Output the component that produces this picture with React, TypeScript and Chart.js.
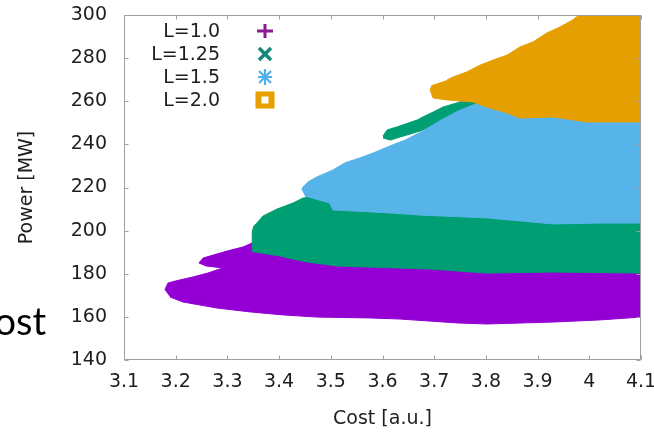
import React, { useEffect, useRef } from 'react';
import { Chart, registerables } from 'chart.js';

Chart.register(...registerables);

// ---- tick labels ----
const X_TICKS = ['3.1', '3.2', '3.3', '3.4', '3.5', '3.6', '3.7', '3.8', '3.9', '4', '4.1'];
const Y_TICKS = ['140', '160', '180', '200', '220', '240', '260', '280', '300'];

// ---- series ----
const SERIES_LABELS = ['L=1.0', 'L=1.25', 'L=1.5', 'L=2.0'];
const SERIES_COLORS = ['#9400D3', '#009E73', '#56B4E9', '#E69F00'];
const MARK_COLORS = ['#8b1a8f', '#12877a', '#4fb0ee', '#E69F00'];

// outline of the region covered by each series (cost, power)
const L10_COST = [3.179, 3.185, 3.199, 3.233, 3.262, 3.291, 3.259, 3.245, 3.253, 3.299, 3.330, 3.348, 3.353, 3.440, 4.100, 4.100, 4.021, 3.930, 3.802, 3.744, 3.634, 3.576, 3.473, 3.408, 3.344, 3.280, 3.214, 3.189];
const L10_POWER = [172.5, 175.7, 176.6, 178.5, 180.3, 182.7, 183.6, 185.0, 187.3, 190.5, 192.4, 194.3, 194.3, 191.0, 191.0, 159.9, 158.6, 157.6, 156.7, 157.2, 159.0, 159.5, 159.9, 160.9, 162.3, 164.1, 166.9, 169.2];

const L125_COST = [3.348, 3.348, 3.348, 3.351, 3.357, 3.369, 3.396, 3.427, 3.446, 3.473, 3.495, 3.518, 4.100, 4.100, 3.930, 3.802, 3.692, 3.576, 3.512, 3.454, 3.408];
const L125_POWER = [190.1, 194.3, 199.4, 202.1, 203.5, 206.8, 210.0, 212.8, 215.1, 216.1, 216.5, 221.2, 221.2, 180.3, 180.8, 180.3, 182.2, 183.1, 183.6, 185.5, 187.8];

const L125B_COST = [3.601, 3.609, 3.628, 3.644, 3.667, 3.678, 3.698, 3.717, 3.731, 3.750, 3.769, 3.789, 3.789, 3.750, 3.711, 3.673, 3.634, 3.615, 3.601];
const L125B_POWER = [243.9, 246.7, 248.1, 249.4, 251.3, 252.7, 255.0, 257.3, 258.3, 259.7, 260.6, 260.1, 256.9, 253.6, 249.9, 246.2, 243.4, 242.0, 243.0];

const L15_COST = [3.444, 3.446, 3.456, 3.473, 3.504, 3.527, 3.556, 3.582, 3.605, 3.624, 3.644, 3.678, 3.717, 3.750, 3.785, 3.808, 4.100, 4.100, 4.021, 3.930, 3.802, 3.673, 3.615, 3.504, 3.498, 3.450];
const L15_POWER = [218.8, 220.2, 222.6, 224.9, 228.1, 231.4, 233.7, 236.0, 238.3, 240.2, 242.0, 246.2, 251.8, 255.9, 259.2, 260.6, 260.6, 203.5, 203.5, 203.1, 205.9, 207.2, 208.2, 209.6, 212.8, 216.1];

const L20_COST = [3.696, 3.692, 3.698, 3.725, 3.775, 3.802, 3.841, 3.866, 3.930, 3.996, 4.100, 4.100, 3.992, 3.968, 3.943, 3.918, 3.891, 3.866, 3.841, 3.814, 3.789, 3.763, 3.736, 3.725];
const L20_POWER = [267.5, 265.2, 261.5, 260.6, 259.7, 257.3, 254.6, 252.2, 252.7, 250.4, 250.4, 305.0, 302.3, 297.7, 294.4, 291.7, 287.5, 285.2, 281.4, 279.1, 276.8, 273.6, 271.2, 269.9];

const X_TITLE = 'Cost [a.u.]';
const Y_TITLE = 'Power [MW]';
const SIDE_TEXT = 'ost';

const FONT = 'DejaVu Sans';
const TEXT = '#1e1e1e';
const FRAME = '#a0a0a0';

const pts = (xs: number[], ys: number[]) => xs.map((x, i) => ({ x, y: ys[i] }));

export default function App() {
  const ref = useRef<HTMLCanvasElement>(null);

  useEffect(() => {
    const canvas = ref.current!;

    const region = (label: string, xs: number[], ys: number[], color: string, order: number) => ({
      label,
      data: pts(xs, ys),
      showLine: true,
      fill: 'shape',
      backgroundColor: color,
      borderColor: color,
      borderWidth: 1,
      pointRadius: 0,
      pointHoverRadius: 0,
      tension: 0,
      order,
    });

    const decor = {
      id: 'decor',
      afterDatasetsDraw(chart: any) {
        const { ctx, chartArea: a, scales } = chart;
        ctx.save();
        ctx.strokeStyle = FRAME;
        ctx.lineWidth = 1;
        const l = Math.round(a.left) + 0.5;
        const r = Math.round(a.right) - 0.5;
        const t = Math.round(a.top) + 0.5;
        const b = Math.round(a.bottom) - 0.5;
        ctx.strokeRect(l, t, r - l, b - t);
        const tl = 4;
        ctx.beginPath();
        scales.x.ticks.forEach((tk: any) => {
          const px = Math.round(scales.x.getPixelForValue(tk.value)) + 0.5;
          ctx.moveTo(px, b); ctx.lineTo(px, b - tl);
          ctx.moveTo(px, t); ctx.lineTo(px, t + tl);
        });
        scales.y.ticks.forEach((tk: any) => {
          const py = Math.round(scales.y.getPixelForValue(tk.value)) + 0.5;
          ctx.moveTo(l, py); ctx.lineTo(l + tl, py);
          ctx.moveTo(r, py); ctx.lineTo(r - tl, py);
        });
        ctx.stroke();
        ctx.restore();
      },
      afterDraw(chart: any) {
        const { ctx } = chart;
        ctx.save();
        // legend
        ctx.font = `19px "${FONT}"`;
        ctx.fillStyle = TEXT;
        ctx.textAlign = 'right';
        ctx.textBaseline = 'middle';
        const tx = 220;
        const mx = 265;
        SERIES_LABELS.forEach((lab, i) => {
          const y = 31 + i * 23;
          ctx.fillStyle = TEXT;
          ctx.fillText(lab, tx, y + 1);
          const c = MARK_COLORS[i];
          ctx.strokeStyle = c;
          ctx.lineCap = 'butt';
          ctx.beginPath();
          if (i === 0) {
            ctx.lineWidth = 3;
            ctx.moveTo(mx - 8, y); ctx.lineTo(mx + 8, y);
            ctx.moveTo(mx, y - 7); ctx.lineTo(mx, y + 7);
            ctx.stroke();
          } else if (i === 1) {
            ctx.lineWidth = 3.5;
            ctx.moveTo(mx - 6, y - 6); ctx.lineTo(mx + 6, y + 6);
            ctx.moveTo(mx + 6, y - 6); ctx.lineTo(mx - 6, y + 6);
            ctx.stroke();
          } else if (i === 2) {
            ctx.lineWidth = 2.2;
            ctx.moveTo(mx - 7, y); ctx.lineTo(mx + 7, y);
            ctx.moveTo(mx, y - 8); ctx.lineTo(mx, y + 8);
            ctx.moveTo(mx - 6, y - 6); ctx.lineTo(mx + 6, y + 6);
            ctx.moveTo(mx + 6, y - 6); ctx.lineTo(mx - 6, y + 6);
            ctx.stroke();
          } else {
            ctx.fillStyle = c;
            ctx.fillRect(mx - 9.5, y - 8.5, 19, 17);
            ctx.fillStyle = '#ffffff';
            ctx.fillRect(mx - 3.5, y - 3.5, 7, 7);
          }
        });
        // cropped slide text at the left edge
        ctx.font = '38px "Lato"';
        ctx.fillStyle = '#000000';
        ctx.textAlign = 'right';
        ctx.textBaseline = 'alphabetic';
        ctx.fillText(SIDE_TEXT, 46, 335);
        ctx.restore();
      },
    };

    const chart = new Chart(canvas, {
      type: 'scatter',
      data: {
        datasets: [
          region(SERIES_LABELS[3], L20_COST, L20_POWER, SERIES_COLORS[3], 0),
          region(SERIES_LABELS[2], L15_COST, L15_POWER, SERIES_COLORS[2], 1),
          region(SERIES_LABELS[1], L125_COST, L125_POWER, SERIES_COLORS[1], 2),
          region(SERIES_LABELS[1], L125B_COST, L125B_POWER, SERIES_COLORS[1], 3),
          region(SERIES_LABELS[0], L10_COST, L10_POWER, SERIES_COLORS[0], 4),
        ] as any,
      },
      options: {
        animation: false,
        responsive: false,
        devicePixelRatio: 1,
        layout: { padding: { top: 15, right: 13, left: 0, bottom: 0 } },
        plugins: { legend: { display: false }, tooltip: { enabled: false } },
        events: [],
        scales: {
          x: {
            type: 'linear',
            min: 3.1,
            max: 4.1,
            grid: { display: false, drawTicks: false, tickLength: 0 },
            border: { display: false },
            afterBuildTicks: (s: any) => {
              s.ticks = X_TICKS.map((t) => ({ value: parseFloat(t) }));
            },
            afterFit: (s: any) => {
              s.height = 73;
              s.paddingLeft = 0;
              s.paddingRight = 0;
            },
            ticks: {
              autoSkip: false,
              maxRotation: 0,
              padding: 11,
              color: TEXT,
              font: { family: FONT, size: 19 },
              callback: (_v: any, i: number) => X_TICKS[i],
            },
            title: {
              display: true,
              text: X_TITLE,
              color: TEXT,
              font: { family: FONT, size: 19 },
              padding: { top: 0, bottom: 3 },
            },
          },
          y: {
            type: 'linear',
            min: 140,
            max: 300,
            grid: { display: false, drawTicks: false, tickLength: 0 },
            border: { display: false },
            afterBuildTicks: (s: any) => {
              s.ticks = Y_TICKS.map((t) => ({ value: parseFloat(t) }));
            },
            afterFit: (s: any) => {
              s.width = 124;
              s.paddingTop = 0;
              s.paddingBottom = 0;
            },
            ticks: {
              autoSkip: false,
              padding: 17,
              color: TEXT,
              font: { family: FONT, size: 19 },
              callback: (_v: any, i: number) => Y_TICKS[i],
            },
            title: {
              display: true,
              text: Y_TITLE,
              color: TEXT,
              font: { family: FONT, size: 19 },
              padding: { top: 16, bottom: 0 },
            },
          },
        },
      } as any,
      plugins: [decor],
    });

    return () => chart.destroy();
  }, []);

  return (
    <div style={{ position: 'fixed', left: 0, top: 0, width: 654, height: 433, background: '#ffffff' }}>
      <canvas ref={ref} width={654} height={433} style={{ display: 'block', width: 654, height: 433 }} />
    </div>
  );
}
